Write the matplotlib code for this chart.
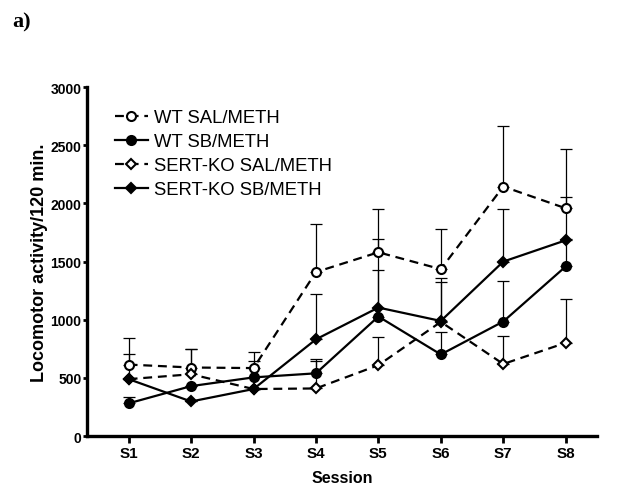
import matplotlib
matplotlib.use("Agg")
import matplotlib.pyplot as plt

sessions = ["S1", "S2", "S3", "S4", "S5", "S6", "S7", "S8"]
x = list(range(1, 9))

wt_sal = [615, 590, 585, 1410, 1580, 1435, 2145, 1958]
wt_sal_err = [225, 162, 135, 410, 370, 347, 523, 512]
wt_sb = [282, 430, 505, 540, 1028, 702, 985, 1458]
wt_sb_err = [58, 0, 140, 126, 400, 190, 350, 240]
ko_sal = [490, 532, 405, 410, 610, 982, 620, 802]
ko_sal_err = [213, 220, 0, 236, 243, 378, 243, 376]
ko_sb = [490, 298, 405, 832, 1105, 990, 1500, 1683]
ko_sb_err = [0, 0, 0, 386, 592, 335, 448, 375]

fig = plt.figure(figsize=(6.29, 4.89), dpi=100)
ax = fig.add_axes([0.138, 0.106, 0.811, 0.714])

sans = ["Liberation Sans", "DejaVu Sans"]

def series(y, err, dashed, marker, filled, label, ms):
    ls = (0, (4, 2.6)) if dashed else "-"
    ax.errorbar(x, y, yerr=[[0] * len(y), err], fmt="none", ecolor="black",
                elinewidth=0.9, capsize=4, capthick=0.9, zorder=2)
    ax.plot(x, y, color="black", lw=1.6, linestyle=ls, marker=marker, ms=ms,
            mfc="black" if filled else "white", mec="black", mew=1.5,
            label=label, zorder=3)

series(wt_sal, wt_sal_err, True, "o", False, "WT SAL/METH", 6.5)
series(wt_sb, wt_sb_err, False, "o", True, "WT SB/METH", 6.5)
series(ko_sal, ko_sal_err, True, "D", False, "SERT-KO SAL/METH", 5)
series(ko_sb, ko_sb_err, False, "D", True, "SERT-KO SB/METH", 5)

ax.set_xlim(0.33, 8.5)
ax.set_ylim(0, 3000)
ax.set_yticks([0, 500, 1000, 1500, 2000, 2500, 3000])
ax.set_xticks(x)
ax.set_xticklabels(sessions)
for s in ["top", "right"]:
    ax.spines[s].set_visible(False)
for s in ["left", "bottom"]:
    ax.spines[s].set_linewidth(2.4)
ax.tick_params(axis="y", direction="out", width=2, length=3, pad=0.8)
ax.tick_params(axis="x", direction="out", width=2, length=5, pad=2)
for lab in ax.get_yticklabels():
    lab.set_family(sans)
    lab.set_fontweight("bold")
    lab.set_fontsize(10)
for lab in ax.get_xticklabels():
    lab.set_family(sans)
    lab.set_fontweight("bold")
    lab.set_fontsize(11)

ax.set_xlabel("Session", family=sans, fontweight="bold", fontsize=11.5, labelpad=7)
ax.set_ylabel("Locomotor activity/120 min.", family=sans, fontweight="bold",
              fontsize=13, labelpad=2)

ax.legend(loc="upper left", bbox_to_anchor=(0.055, 0.936), frameon=False,
          prop={"family": sans, "size": 13.3}, handlelength=1.8,
          handletextpad=0.3, labelspacing=0.38, borderaxespad=0, borderpad=0)

fig.text(0.019, 0.943, "a)", family=["Liberation Serif", "DejaVu Serif"],
         fontweight="bold", fontsize=16, va="baseline")

fig.savefig("out.png", dpi=100)
